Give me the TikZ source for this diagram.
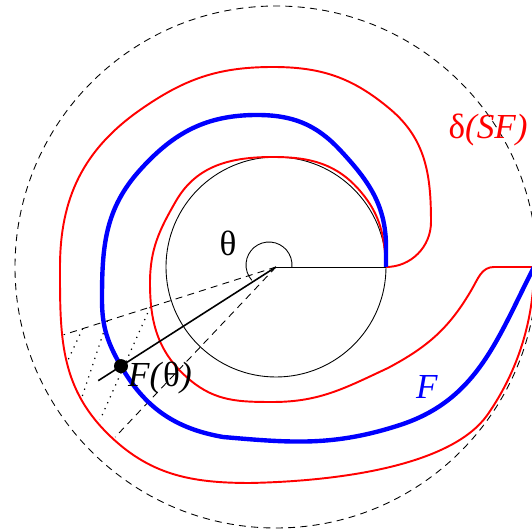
\documentclass[tikz,border=0pt]{standalone}
\usepackage{fontspec}
\setmainfont{Liberation Serif}
\usetikzlibrary{calc}

\begin{document}
\begin{tikzpicture}[x=0.02cm,y=0.02cm,
  tube/.style={red,line width=1.1pt},
  curveF/.style={blue,line width=2.5pt},
  ray/.style={dash pattern=on 4pt off 3pt,line width=0.5pt},
  fibre/.style={dash pattern=on 0.7pt off 3pt,line width=0.7pt},
  lbl/.style={font=\fontsize{20}{24}\selectfont}]
  \useasboundingbox (-276,-263) rectangle (256,267);
  \clip (-276,-263) rectangle (256,267);
  \coordinate (O) at (0,0);
  \coordinate (A) at (110,0);
  \coordinate (B) at (258,0);
  \coordinate (Fth) at (212.6:184);
  \coordinate (rayF) at (212.6:211);
  \coordinate (rayU) at (197.7:223);
  \coordinate (rayL) at (226.6:234);
  \draw[ray] (O) circle (261);
  \draw[line width=0.5pt] (O) circle (110);
  \draw[line width=0.5pt] (O) -- (A);
  \draw[ray] (O) -- (rayU);
  \draw[ray] (O) -- (rayL);
  % fibres from the upper ray to the outer boundary
  \draw[fibre] (197.7:203) -- (-208,-93);
  \draw[fibre] (197.7:177) -- (-194,-130);
  \draw[fibre] (197.7:132) -- (-176,-153);
  % delta(SF), outer and inner side
  \draw[tube] (A) to[out=0,in=-90] (155,45) to[out=90,in=-40] (114,158)
    to[out=140,in=0] (-3,200) to[out=180,in=35] (-136,157) to[out=215,in=90] (-216,0)
    to[out=-90,in=135] (-169,-166) to[out=-45,in=180] (-26,-216)
    .. controls (70,-214) and (176.6,-197) .. (-35:258) arc (-35:0:258);
  \draw[tube] (A) to[out=93,in=-50] (85,75) to[out=130,in=0] (-3,110)
    to[out=180,in=60] (-100,66) to[out=240,in=90] (-126,-16) to[out=-90,in=140] (-86,-113)
    to[out=-40,in=180] (-3,-135) to[out=0,in=205] (112,-101) to[out=28,in=-120] (196,-22)
    to[out=60,in=180] (218,0) -- (B);
  % F
  \draw[curveF] (A) -- (110,20) to[out=90,in=-47] (64,117) to[out=133,in=0] (-19,152)
    to[out=180,in=48] (-136,97) to[out=228,in=90] (-174,-33) to[out=-90,in=120] (Fth)
    to[out=-60,in=170] (-53,-170) to[out=-5,in=198] (124,-158) to[out=18,in=243] (B);
  \draw[line width=0.9pt] (O) -- (rayF);
  \draw[line width=0.5pt] ([shift={(-7,2)}]-5:23) arc (-5:222:23);
  \fill (Fth) circle (7);
  \node[lbl] (theta) at (-48,24) {θ};
  \node[lbl,anchor=west] (Flbl) at (-154,-111) {\textit{F(}θ\textit{)}};
  \node[lbl,blue] (Fname) at (151,-120) {\textit{F}};
  \node[lbl,red] (dSF) at (212,137) {δ\textit{(SF)}};
\end{tikzpicture}
\end{document}
